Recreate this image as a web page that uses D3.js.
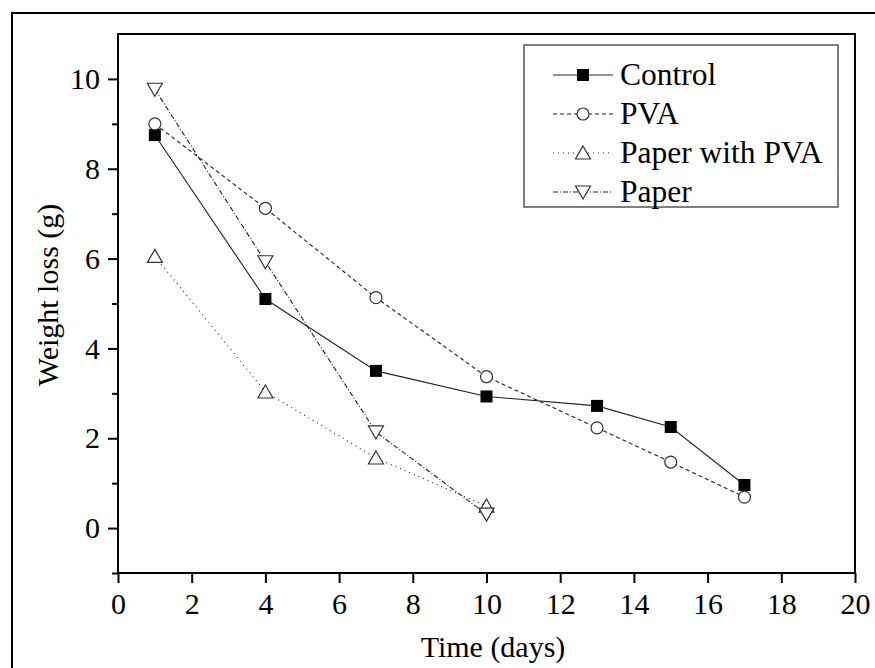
<!DOCTYPE html>
<html>
<head>
<meta charset=utf-8>
<style>
body {margin: 0; background: #fff;}
svg text {font-family: 'Liberation Serif', 'Times New Roman', serif; fill: #000;}
</style>
</head>
<body>
<svg id=chart width=875 height=668></svg>
<script src='https://cdn.jsdelivr.net/npm/d3@7/dist/d3.min.js'></script>
<script>
//data
var days = [1, 4, 7, 10, 13, 15, 17];
var control = [8.75, 5.1, 3.5, 2.93, 2.72, 2.25, 0.96];
var pva = [9.0, 7.12, 5.13, 3.37, 2.23, 1.47, 0.69];
var paperDays = [1, 4, 7, 10];
var paperWithPva = [6.05, 3.03, 1.56, 0.49];
var paper = [9.77, 5.93, 2.14, 0.31];
var xTicks = [0, 2, 4, 6, 8, 10, 12, 14, 16, 18, 20];
var yTicks = [0, 2, 4, 6, 8, 10];
var yMinor = [-1, 1, 3, 5, 7, 9];

var series = [
  {name: 'Control', x: days, y: control, dash: null, marker: 'square'},
  {name: 'PVA', x: days, y: pva, dash: '4,3', marker: 'circle'},
  {name: 'Paper with PVA', x: paperDays, y: paperWithPva, dash: '1,4', marker: 'up'},
  {name: 'Paper', x: paperDays, y: paper, dash: '5,2,1,2', marker: 'down'}
];

var margin = {top: 34, right: 20, bottom: 95, left: 118};
var svg = d3.select('#chart');
var width = 855 - margin.left;
var height = 573 - margin.top;

//outer frame (only top and left edges show)
svg.append('path')
    .attr('d', 'M12,675 V13 H875')
    .attr('fill', 'none')
    .attr('stroke', '#000')
    .attr('stroke-width', 2);

var g = svg.append('g')
    .attr('transform', 'translate(' + margin.left + ',' + margin.top + ')');

var x = d3.scaleLinear().domain([0, 20]).range([0, width]);
var y = d3.scaleLinear().domain([-1, 11]).range([height, 0]);

//plot frame
g.append('rect')
    .attr('width', width).attr('height', height)
    .attr('fill', 'none').attr('stroke', '#000').attr('stroke-width', 2);

//axes
var xAxis = g.append('g')
    .attr('transform', 'translate(0,' + height + ')')
    .call(d3.axisBottom(x).tickValues(xTicks).tickSize(10).tickPadding(8));
var yAxis = g.append('g')
    .call(d3.axisLeft(y).tickValues(yTicks).tickSize(10).tickPadding(8));
g.append('g')
    .call(d3.axisLeft(y).tickValues(yMinor).tickSize(6).tickFormat(''));

g.selectAll('.domain').remove();
g.selectAll('.tick line').attr('stroke', '#000').attr('stroke-width', 2);
g.selectAll('.tick text')
    .style('font-family', "'Liberation Serif', serif")
    .style('font-size', '30px')
    .attr('fill', '#000');
xAxis.selectAll('.tick text').attr('dy', '0.76em');

//axis titles
svg.append('text')
    .attr('text-anchor', 'middle')
    .attr('x', 493).attr('y', 657)
    .style('font-size', '30px')
    .text('Time (days)');

svg.append('text')
    .attr('text-anchor', 'middle')
    .attr('transform', 'translate(58,295) rotate(-90)')
    .style('font-size', '30px')
    .text('Weight loss (g)');

//markers
function drawMarker(sel, type) {
  if (type === 'square') {
    sel.append('rect').attr('x', -6).attr('y', -6).attr('width', 12).attr('height', 12)
        .attr('fill', '#000');
  } else if (type === 'circle') {
    sel.append('circle').attr('r', 6).attr('fill', '#fff')
        .attr('stroke', '#333').attr('stroke-width', 1.2);
  } else if (type === 'up') {
    sel.append('path').attr('d', 'M0,-7 L7.5,6 L-7.5,6 Z').attr('fill', '#fff')
        .attr('stroke', '#333').attr('stroke-width', 1.2);
  } else {
    sel.append('path').attr('d', 'M0,7 L7.5,-6 L-7.5,-6 Z').attr('fill', '#fff')
        .attr('stroke', '#333').attr('stroke-width', 1.2);
  }
}

var line = d3.line()
    .x(function(d) { return x(d[0]); })
    .y(function(d) { return y(d[1]); });

series.forEach(function(s) {
  var pts = s.x.map(function(v, i) { return [v, s.y[i]]; });
  g.append('path')
      .datum(pts)
      .attr('d', line)
      .attr('fill', 'none')
      .attr('stroke', '#222')
      .attr('stroke-width', 1.1)
      .attr('stroke-dasharray', s.dash);
});

series.forEach(function(s) {
  s.x.forEach(function(v, i) {
    var m = g.append('g')
        .attr('transform', 'translate(' + x(v) + ',' + y(s.y[i]) + ')');
    drawMarker(m, s.marker);
  });
});

//legend
var legend = svg.append('g');
legend.append('rect')
    .attr('x', 524).attr('y', 45).attr('width', 314).attr('height', 162)
    .attr('fill', '#fff').attr('stroke', '#555').attr('stroke-width', 1.5);

series.forEach(function(s, i) {
  var row = legend.append('g')
      .attr('transform', 'translate(0,' + (75 + i * 39) + ')');
  row.append('line')
      .attr('x1', 553).attr('x2', 613)
      .attr('stroke', '#222').attr('stroke-width', 1.1)
      .attr('stroke-dasharray', s.dash);
  drawMarker(row.append('g').attr('transform', 'translate(583,0)'), s.marker);
  row.append('text')
      .attr('x', 620).attr('dy', '0.33em')
      .style('font-size', '31.5px')
      .text(s.name);
});
</script>
</body>
</html>
